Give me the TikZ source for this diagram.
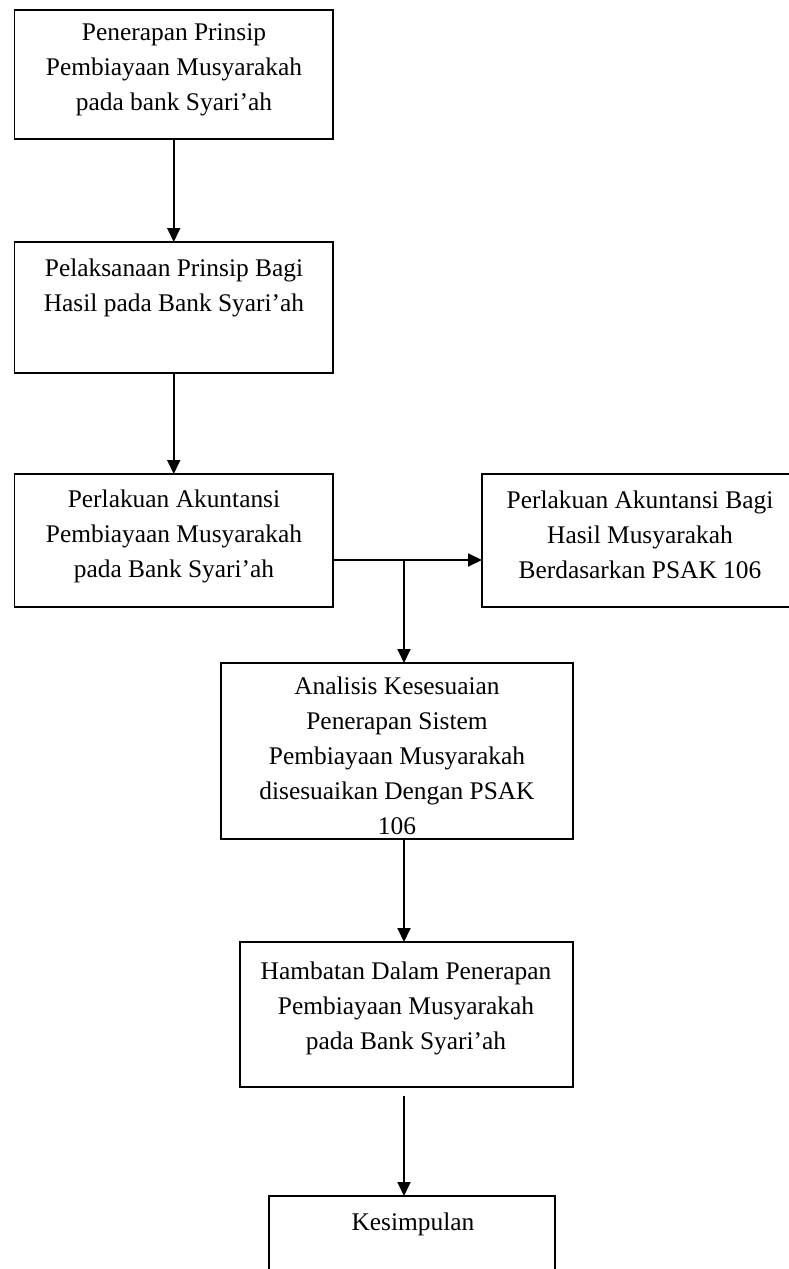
\documentclass[tikz,border=0pt]{standalone}
\usepackage{fontspec}
\setmainfont{Liberation Serif}
\usetikzlibrary{arrows.meta}
\begin{document}
\begin{tikzpicture}[x=1pt,y=-1pt,
  boxstyle/.style={draw=black,line width=1.8pt,inner sep=0pt,outer sep=0pt},
  txt/.style={align=center,inner sep=0pt,font=\fontsize{25.4}{35}\selectfont},
  arr/.style={line width=1.8pt,-{Triangle[length=14pt,width=13pt]}}]
\useasboundingbox (0,0) rectangle (789,1269);
\clip (0,0) rectangle (789,1269);
% boxes
\node[boxstyle,minimum width=318.5pt,minimum height=129pt] (b1) at (173.75,74.5) {};
\node[boxstyle,minimum width=318.5pt,minimum height=131pt] (b2) at (173.75,307.5) {};
\node[boxstyle,minimum width=318.5pt,minimum height=133pt] (b3) at (173.75,540.5) {};
\node[boxstyle,minimum width=316pt,minimum height=133pt] (b4) at (640,540.5) {};
\node[boxstyle,minimum width=352pt,minimum height=176pt] (b5) at (397,751) {};
\node[boxstyle,minimum width=333pt,minimum height=145pt] (b6) at (406.5,1014.5) {};
\node[boxstyle,minimum width=286pt,minimum height=150pt] (b7) at (412,1271) {};
% texts
\node[txt] (t1) at (174,70) {Penerapan Prinsip\\Pembiayaan Musyarakah\\pada bank Syari’ah};
\node[txt] (t2) at (174,287.5) {Pelaksanaan Prinsip Bagi\\Hasil pada Bank Syari’ah};
\node[txt] (t3) at (174,536) {Perlakuan Akuntansi\\Pembiayaan Musyarakah\\pada Bank Syari’ah};
\node[txt] (t4) at (640,535) {Perlakuan Akuntansi Bagi\\Hasil Musyarakah\\Berdasarkan PSAK 106};
\node[txt] (t5) at (397,756) {Analisis Kesesuaian\\Penerapan Sistem\\Pembiayaan Musyarakah\\disesuaikan Dengan PSAK\\106};
\node[txt] (t6) at (406,1008) {Hambatan Dalam Penerapan\\Pembiayaan Musyarakah\\pada Bank Syari’ah};
\node[txt] (t7) at (413,1224) {Kesimpulan};
% connectors
\coordinate (j) at (404,560);
\coordinate (g) at (404,1096);
\draw[arr] (b1.south) -- (b2.north);
\draw[arr] (b2.south) -- (b3.north);
\draw[arr] (b3.east |- j) -- (b4.west |- j);
\draw[arr] (j) -- (j |- b5.north);
\draw[arr] (b5.south -| j) -- (b6.north -| j);
\draw[arr] (g) -- (g |- b7.north);
\end{tikzpicture}
\end{document}
